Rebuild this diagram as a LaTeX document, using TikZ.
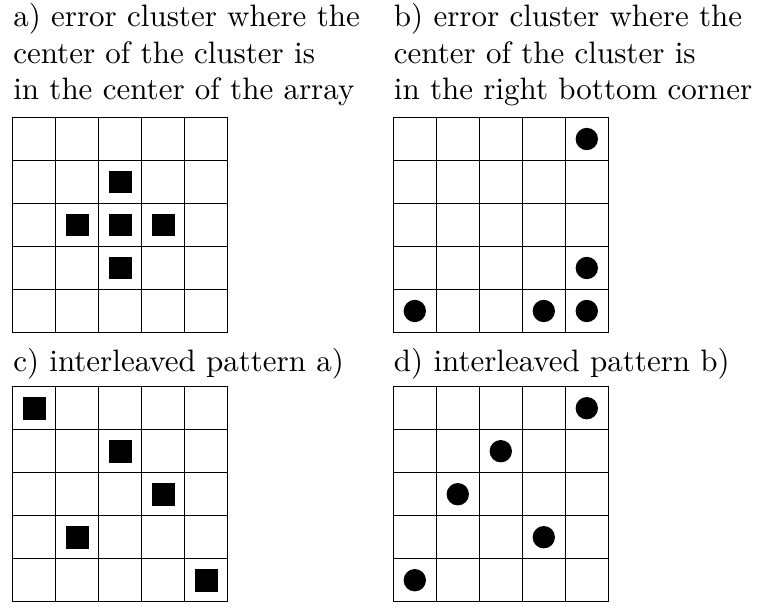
\documentclass[tikz,border=0pt]{standalone}
\begin{document}
\begin{tikzpicture}[x=0.011628cm,y=-0.011628cm,
  gridline/.style={line width=0.45pt,black},
  sq/.style={rectangle,fill=black,inner sep=0pt,minimum size=0.264cm},
  dot/.style={circle,fill=black,inner sep=0pt,minimum size=0.26cm},
  lbl/.style={anchor=base west,inner sep=0pt,font=\fontsize{10.25}{12.3}\selectfont}]
\useasboundingbox (0,0) rectangle (757,608);
% labels
\node[lbl] (la1) at (12.7,26.5) {a) error cluster where the};
\node[lbl] (la2) at (12.7,63.3) {center of the cluster is};
\node[lbl] (la3) at (12.7,100) {in the center of the array};
\node[lbl] (lb1) at (393.3,26.5) {b) error cluster where the};
\node[lbl] (lb2) at (393.3,63.3) {center of the cluster is};
\node[lbl] (lb3) at (393.3,100) {in the right bottom corner};
\node[lbl] (lc) at (12.7,371.5) {c) interleaved pattern a)};
\node[lbl] (ld) at (393.3,371.5) {d) interleaved pattern b)};
% grid a
\begin{scope}[shift={(12.7,117.5)}]
  \draw[gridline] (0,0) rectangle (215,215);
  \foreach \i in {1,...,4} {\draw[gridline] (\i*43,0) -- (\i*43,215); \draw[gridline] (0,\i*43) -- (215,\i*43);}
  \foreach \c/\r in {2/1,1/2,2/2,3/2,2/3} \node[sq] (a\c\r) at (\c*43+21.5,\r*43+21.5) {};
\end{scope}
% grid b
\begin{scope}[shift={(393.3,117.5)}]
  \draw[gridline] (0,0) rectangle (215,215);
  \foreach \i in {1,...,4} {\draw[gridline] (\i*43,0) -- (\i*43,215); \draw[gridline] (0,\i*43) -- (215,\i*43);}
  \foreach \c/\r in {4/0,4/3,0/4,3/4,4/4} \node[dot] (b\c\r) at (\c*43+21.5,\r*43+21.5) {};
\end{scope}
% grid c
\begin{scope}[shift={(12.7,386.7)}]
  \draw[gridline] (0,0) rectangle (215,215);
  \foreach \i in {1,...,4} {\draw[gridline] (\i*43,0) -- (\i*43,215); \draw[gridline] (0,\i*43) -- (215,\i*43);}
  \foreach \c/\r in {0/0,2/1,3/2,1/3,4/4} \node[sq] (c\c\r) at (\c*43+21.5,\r*43+21.5) {};
\end{scope}
% grid d
\begin{scope}[shift={(393.3,386.7)}]
  \draw[gridline] (0,0) rectangle (215,215);
  \foreach \i in {1,...,4} {\draw[gridline] (\i*43,0) -- (\i*43,215); \draw[gridline] (0,\i*43) -- (215,\i*43);}
  \foreach \c/\r in {4/0,2/1,1/2,3/3,0/4} \node[dot] (d\c\r) at (\c*43+21.5,\r*43+21.5) {};
\end{scope}
\end{tikzpicture}
\end{document}
